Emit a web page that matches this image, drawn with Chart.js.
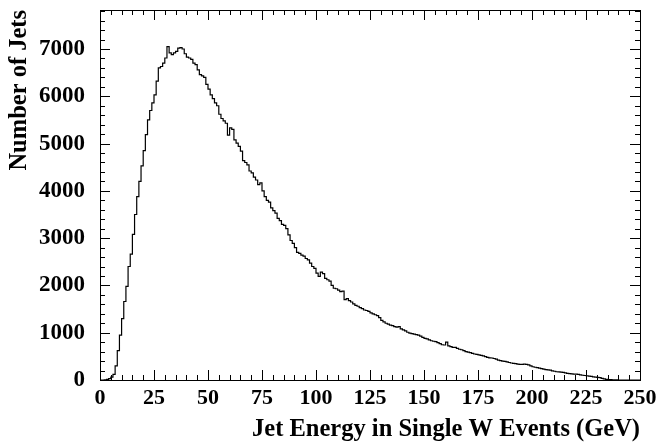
<!DOCTYPE html>
<html>
<head>
<meta charset="utf-8">
<script src="https://cdn.jsdelivr.net/npm/chart.js@4/dist/chart.umd.min.js"></script>
<style>
  html, body { margin: 0; padding: 0; background: #fff; }
  #wrap { width: 661px; height: 442px; }
</style>
</head>
<body>
<div id="wrap"><canvas id="jetChart" width="661" height="442"></canvas></div>
<script>
// histogram: 1 GeV bins from 0 to 250 GeV
const binStart = 0;
const binWidth = 1;
const counts = [
    0, 0, 5, 15, 30, 60, 120, 300, 620, 950,
    1300, 1660, 1980, 2400, 2660, 3080, 3500, 3880, 4200, 4530,
    4850, 5190, 5500, 5700, 5860, 6030, 6320, 6600, 6630, 6700,
    6810, 7050, 6920, 6880, 6920, 6950, 7020, 7030, 7000, 6900,
    6830, 6810, 6780, 6700, 6670, 6560, 6460, 6430, 6400, 6250,
    6150, 6030, 5950, 5860, 5800, 5620, 5530, 5480, 5430, 5180,
    5330, 5300, 5080, 5010, 4940, 4840, 4640, 4600, 4550, 4420,
    4380, 4290, 4230, 4130, 4170, 4000, 3880, 3800, 3760, 3640,
    3580, 3530, 3420, 3370, 3290, 3270, 3200, 3070, 2950, 2890,
    2800, 2700, 2680, 2640, 2620, 2570, 2540, 2470, 2400, 2360,
    2260, 2190, 2280, 2250, 2150, 2120, 2090, 2000, 1940, 1930,
    1900, 1870, 1880, 1700, 1720, 1680, 1650, 1610, 1580, 1560,
    1530, 1510, 1480, 1470, 1450, 1420, 1400, 1380, 1360, 1320,
    1260, 1230, 1200, 1180, 1160, 1150, 1130, 1120, 1130, 1080,
    1060, 1040, 1010, 990, 980, 970, 960, 950, 930, 900,
    880, 870, 850, 830, 820, 810, 790, 770, 745, 740,
    800, 720, 705, 690, 690, 670, 650, 640, 620, 600,
    590, 580, 565, 550, 540, 530, 520, 510, 495, 480,
    470, 465, 455, 440, 420, 410, 400, 395, 385, 370,
    360, 350, 345, 335, 330, 330, 335, 330, 320, 300,
    280, 270, 260, 250, 240, 230, 220, 215, 210, 195,
    185, 175, 170, 165, 160, 150, 140, 135, 130, 125,
    125, 120, 110, 100, 95, 90, 80, 75, 65, 60,
    57, 50, 35, 25, 15, 10, 8, 5, 5, 3,
    0, 0, 0, 0, 0, 0, 0, 0, 0, 0
];
const xTicks = [0, 25, 50, 75, 100, 125, 150, 175, 200, 225, 250];
const yTicks = [0, 1000, 2000, 3000, 4000, 5000, 6000, 7000];

const serif = 'Liberation Serif, Times New Roman, serif';

// bin left edges + closing edge, drawn as steps
const points = counts.map((c, i) => ({ x: binStart + i * binWidth, y: c }));
points.push({ x: binStart + counts.length * binWidth, y: counts[counts.length - 1] });

// frame + inward ticks on all four sides
const frameTicks = {
    id: 'frameTicks',
    afterDatasetsDraw(chart) {
        const { ctx, chartArea: a, scales: { x, y } } = chart;
        ctx.save();
        ctx.strokeStyle = '#000';
        ctx.lineWidth = 1;
        ctx.beginPath();
        for (let v = 0; v <= 250; v += 5) {
            const px = Math.round(x.getPixelForValue(v)) + 0.5;
            const len = v % 25 === 0 ? 10 : 5;
            ctx.moveTo(px, a.bottom); ctx.lineTo(px, a.bottom - len);
            ctx.moveTo(px, a.top); ctx.lineTo(px, a.top + len);
        }
        for (let v = 0; v <= 7800; v += 200) {
            const py = Math.round(y.getPixelForValue(v)) + 0.5;
            const len = v % 1000 === 0 ? 10 : 5;
            ctx.moveTo(a.left, py); ctx.lineTo(a.left + len, py);
            ctx.moveTo(a.right, py); ctx.lineTo(a.right - len, py);
        }
        ctx.stroke();
        ctx.strokeRect(Math.round(a.left) + 0.5, Math.round(a.top) + 0.5,
            Math.round(a.right - a.left), Math.round(a.bottom - a.top));
        ctx.restore();
    }
};

new Chart(document.getElementById('jetChart'), {
    type: 'line',
    data: {
        datasets: [{
            data: points,
            stepped: true,
            borderColor: '#000',
            borderWidth: 1.2,
            pointRadius: 0,
            fill: false,
            clip: false
        }]
    },
    options: {
        responsive: false,
        animation: false,
        layout: { padding: { top: 10, right: 21, left: 0, bottom: 0 } },
        plugins: { legend: { display: false }, tooltip: { enabled: false } },
        scales: {
            x: {
                type: 'linear',
                min: 0,
                max: 250,
                afterBuildTicks: s => { s.ticks = xTicks.map(v => ({ value: v })); },
                afterFit: s => { s.height = 62; s.paddingLeft = 0; s.paddingRight = 0; },
                grid: { display: false, drawTicks: false },
                border: { display: false },
                ticks: {
                    color: '#000',
                    padding: 5,
                    maxRotation: 0,
                    callback: v => String(v),
                    font: { family: serif, size: 22, weight: 'bold' }
                },
                title: {
                    display: true,
                    text: 'Jet Energy in Single W Events (GeV)',
                    align: 'end',
                    color: '#000',
                    padding: { top: 0, bottom: 0 },
                    font: { family: serif, size: 24.5, weight: 'bold', lineHeight: 1 }
                }
            },
            y: {
                type: 'linear',
                min: 0,
                max: 7825,
                afterBuildTicks: s => { s.ticks = yTicks.map(v => ({ value: v })); },
                afterFit: s => { s.width = 100; s.paddingTop = 0; s.paddingBottom = 0; },
                grid: { display: false, drawTicks: false },
                border: { display: false },
                ticks: {
                    color: '#000',
                    padding: 15,
                    callback: v => String(v),
                    font: { family: serif, size: 23, weight: 'bold' }
                },
                title: {
                    display: true,
                    text: 'Number of Jets',
                    align: 'end',
                    color: '#000',
                    padding: { top: 7, bottom: 0 },
                    font: { family: serif, size: 24.5, weight: 'bold', lineHeight: 1 }
                }
            }
        }
    },
    plugins: [frameTicks]
});
</script>
</body>
</html>
